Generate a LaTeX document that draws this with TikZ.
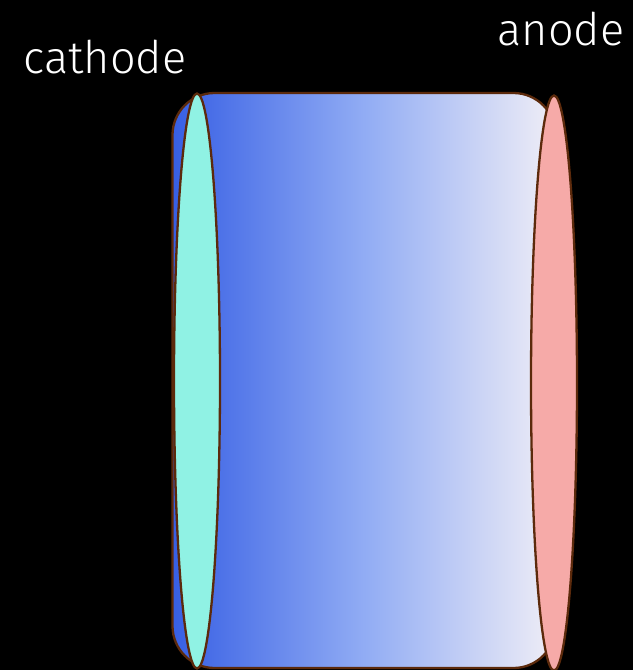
\documentclass[tikz,border=0pt]{standalone}
\usepackage{fontspec}
\setmainfont{Fira Sans}[UprightFont=* Light]
\usetikzlibrary{shapes.geometric}

\definecolor{rim}{RGB}{92,42,12}
\definecolor{catcol}{RGB}{144,242,228}
\definecolor{ancol}{RGB}{246,170,168}
\definecolor{blueL}{RGB}{55,95,228}
\definecolor{blueM}{RGB}{145,172,244}
\definecolor{blueR}{RGB}{240,238,246}

\begin{document}
\begin{tikzpicture}[x=1pt, y=-1pt,
  electrode/.style={ellipse, draw=rim, line width=2.3pt, inner sep=0pt, minimum width=46pt, minimum height=575pt},
  tag/.style={text=white, font=\fontsize{45}{45}\selectfont, anchor=base, inner sep=0pt}]
  \fill[black] (0,0) rectangle (633,670);
  \useasboundingbox (0,0) rectangle (633,670);
  % electrolyte body
  \node[draw=rim, line width=2.3pt, rounded corners=42pt, left color=blueL, right color=blueR, middle color=blueM,
    minimum width=383pt, minimum height=575pt, inner sep=0pt] (cell) at (364,380.5) {};
  % electrodes
  \node[electrode, fill=catcol] (cath) at (197,381) {};
  \node[electrode, fill=ancol] (anod) at (554,383) {};
  % labels
  \node[tag] (cathlab) at (105,73) {cathode};
  \node[tag] (anlab) at (561,45) {anode};
\end{tikzpicture}
\end{document}
